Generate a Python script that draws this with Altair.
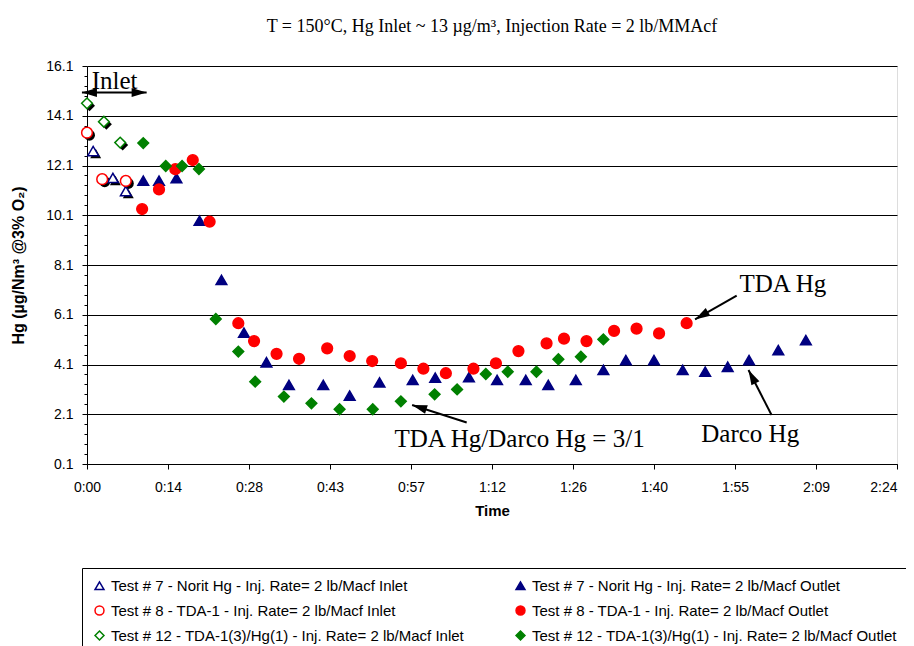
import altair as alt
import pandas as pd

# ---------------- data ----------------
series_names = [
    "Test # 7 - Norit Hg - Inj. Rate= 2 lb/Macf Inlet",
    "Test # 7 - Norit Hg - Inj. Rate= 2 lb/Macf Outlet",
    "Test # 8 - TDA-1 - Inj. Rate= 2 lb/Macf Inlet",
    "Test # 8 - TDA-1 - Inj. Rate= 2 lb/Macf Outlet",
    "Test # 12 - TDA-1(3)/Hg(1) - Inj. Rate= 2 lb/Macf Inlet",
    "Test # 12 - TDA-1(3)/Hg(1) - Inj. Rate= 2 lb/Macf Outlet",
]
series_shapes = ["triangle-up", "triangle-up", "circle", "circle", "diamond", "diamond"]
series_stroke = ["#000080", "#000080", "#FF0000", "#FF0000", "#008000", "#008000"]
series_fill = ["#FFFFFF", "#000080", "#FFFFFF", "#FF0000", "#FFFFFF", "#008000"]

# time in minutes, Hg in ug/Nm3 @3% O2
t7_inlet_time = [1.1, 4.6, 6.9]
t7_inlet_hg = [12.68, 11.60, 11.07]
t8_inlet_time = [0.0, 2.7, 6.9]
t8_inlet_hg = [13.42, 11.55, 11.48]
t12_inlet_time = [0.0, 3.0, 5.9]
t12_inlet_hg = [14.60, 13.86, 13.02]

t7_outlet_time = [10.0, 12.8, 15.9, 20.0, 23.9, 27.9, 31.9, 35.9, 42.0, 46.7, 52.0,
                  57.9, 61.9, 67.9, 72.9, 78.0, 82.0, 86.9, 91.8, 95.8, 100.8, 105.9,
                  109.9, 113.9, 117.7, 122.9, 127.8]
t7_outlet_hg = [11.49, 11.49, 11.59, 9.88, 7.50, 5.38, 4.19, 3.28, 3.28, 2.85, 3.38,
                3.48, 3.57, 3.59, 3.48, 3.48, 3.28, 3.48, 3.88, 4.28, 4.28, 3.88,
                3.81, 4.01, 4.28, 4.68, 5.08]
t8_outlet_time = [9.8, 12.8, 15.7, 18.8, 21.8, 26.9, 29.7, 33.7, 37.7, 42.7, 46.7,
                  50.7, 55.8, 59.8, 63.8, 68.7, 72.7, 76.7, 81.7, 84.8, 88.8, 93.7,
                  97.7, 101.7, 106.6]
t8_outlet_hg = [10.35, 11.14, 11.95, 12.32, 9.84, 5.76, 5.04, 4.53, 4.33, 4.75, 4.44,
                4.24, 4.15, 3.93, 3.75, 3.93, 4.15, 4.64, 4.95, 5.14, 5.04, 5.45,
                5.54, 5.35, 5.76]
t12_outlet_time = [10.0, 14.0, 16.9, 19.9, 22.9, 26.9, 29.9, 35.0, 39.9, 44.9, 50.8,
                   55.8, 61.8, 65.8, 70.9, 74.8, 79.9, 83.8, 87.8, 91.8]
t12_outlet_hg = [13.00, 12.08, 12.08, 11.96, 5.93, 4.62, 3.41, 2.81, 2.54, 2.30, 2.30,
                 2.62, 2.90, 3.10, 3.72, 3.81, 3.81, 4.31, 4.41, 5.11]

x_tick_labels = ["0:00", "0:14", "0:28", "0:43", "0:57", "1:12", "1:26", "1:40",
                 "1:55", "2:09", "2:24"]
y_major_ticks = [0.1, 2.1, 4.1, 6.1, 8.1, 10.1, 12.1, 14.1, 16.1]

note_text = ["Inlet", "TDA Hg", "Darco Hg", "TDA Hg/Darco Hg = 3/1"]
note_time = [4.9, 123.7, 117.9, 76.9]
note_hg = [15.18, 7.01, 1.00, 0.80]

arrow_tail_time = [-0.9, 115.5, 121.7, 67.5]
arrow_tail_hg = [15.03, 6.87, 2.07, 1.77]
arrow_tip_time = [10.6, 108.1, 117.6, 57.8]
arrow_tip_hg = [15.03, 5.91, 3.88, 2.47]

head_time = [-0.9, 10.6, 108.1, 117.6, 57.8]
head_hg = [15.03, 15.03, 5.91, 3.88, 2.47]
head_angle = [270, 90, 239.5, 332.5, 287.6]

title_text = "T = 150°C, Hg Inlet ~ 13 µg/m³, Injection Rate = 2 lb/MMAcf"

# ---------------- tables ----------------
all_series = [
    (t7_inlet_time, t7_inlet_hg), (t7_outlet_time, t7_outlet_hg),
    (t8_inlet_time, t8_inlet_hg), (t8_outlet_time, t8_outlet_hg),
    (t12_inlet_time, t12_inlet_hg), (t12_outlet_time, t12_outlet_hg),
]
rows = []
for name, (ts, vs) in zip(series_names, all_series):
    for t, v in zip(ts, vs):
        rows.append({"series": name, "time": t, "hg": v})
df = pd.DataFrame(rows)

notes_df = pd.DataFrame({"time": note_time, "hg": note_hg, "label": note_text})
arrows_df = pd.DataFrame({"time": arrow_tail_time, "hg": arrow_tail_hg,
                          "time2": arrow_tip_time, "hg2": arrow_tip_hg})
heads_df = pd.DataFrame({"time": head_time, "hg": head_hg, "angle": head_angle})

# ---------------- scales / axes ----------------
x_scale = alt.Scale(domain=[0, 144], nice=False, zero=False)
y_scale = alt.Scale(domain=[0.1, 16.1], nice=False, zero=False)

x_tick_values = [round(i * 14.4, 1) for i in range(len(x_tick_labels))]
label_list = "[" + ",".join("'%s'" % s for s in x_tick_labels) + "]"
x_axis = alt.Axis(
    values=x_tick_values,
    labelExpr=label_list + "[round(datum.value / 14.4)]",
    title="Time", grid=False, tickSize=5, labelPadding=11,
    labelAlign={"condition": {"test": "datum.value >= 143", "value": "right"},
                "value": "center"},
    labelFont="Liberation Sans", labelFontSize=14, labelColor="black",
    titleFont="Liberation Sans", titleFontSize=15, titleFontWeight="bold",
    titleColor="black", titlePadding=9,
    domainColor="black", tickColor="black", labelFlush=False,
)

y_all_ticks = [round(0.1 + 0.4 * i, 1) for i in range(41)]
is_major = "abs((datum.value - 0.1) / 2 - round((datum.value - 0.1) / 2)) < 0.01"
y_axis = alt.Axis(
    values=y_all_ticks,
    labelExpr="(" + is_major + ") ? format(datum.value, '.1f') : ''",
    title="Hg (µg/Nm³ @3% O₂)",
    grid=True, gridColor="black", gridWidth=1,
    gridOpacity={"condition": {"test": is_major, "value": 1}, "value": 0},
    tickSize={"condition": {"test": is_major, "value": 5}, "value": 3},
    labelPadding=9, labelFont="Liberation Sans", labelFontSize=14, labelColor="black",
    titleFont="Liberation Sans", titleFontSize=16, titleFontWeight="bold",
    titleColor="black", titlePadding=19,
    domainColor="black", tickColor="black", labelFlush=False,
)

X = alt.X("time:Q", scale=x_scale, axis=x_axis)
Y = alt.Y("hg:Q", scale=y_scale, axis=y_axis)

legend = alt.Legend(
    title=None, orient="none", legendX=-5, legendY=502, columns=2,
    direction="horizontal",
    strokeColor="black", fillColor="white", padding=10, cornerRadius=0,
    labelFont="Liberation Sans", labelFontSize=15, labelColor="black", labelLimit=600,
    labelOffset=4, symbolSize=80, symbolStrokeWidth=1.5, rowPadding=9,
    columnPadding=48,
)

# ---------------- layers ----------------
shadows = []
for name, shp in zip(series_names, series_shapes):
    if name.endswith("Inlet"):
        shadows.append(
            alt.Chart(df[df["series"] == name]).mark_point(
                shape=shp, filled=True, color="black", opacity=1, size=120,
                xOffset=2.5, yOffset=2.5,
            ).encode(x=X, y=Y)
        )

points = alt.Chart(df).mark_point(filled=True, opacity=1, size=115, strokeWidth=1.5).encode(
    x=X, y=Y,
    shape=alt.Shape("series:N", scale=alt.Scale(domain=series_names, range=series_shapes),
                    legend=legend),
    fill=alt.Fill("series:N", scale=alt.Scale(domain=series_names, range=series_fill),
                  legend=legend),
    stroke=alt.Stroke("series:N", scale=alt.Scale(domain=series_names, range=series_stroke),
                      legend=legend),
)

arrow_lines = alt.Chart(arrows_df).mark_rule(color="black", strokeWidth=2).encode(
    x=X, y=Y, x2="time2:Q", y2="hg2:Q",
)

arrow_heads = alt.Chart(heads_df).mark_point(
    shape="M0,0L0.9,3L-0.9,3Z", filled=True, color="black", opacity=1, size=100,
).encode(x=X, y=Y, angle=alt.Angle("angle:Q", scale=None))

notes = alt.Chart(notes_df).mark_text(
    font="Liberation Serif", fontSize=25, color="black", align="center",
    baseline="alphabetic",
).encode(x=X, y=Y, text="label:N")

chart = alt.layer(*shadows, points, arrow_lines, arrow_heads, notes).properties(
    width=810, height=398,
    autosize=alt.AutoSizeParams(type="none"),
    padding={"left": 79, "top": 58, "right": 9, "bottom": 182},
    title=alt.TitleParams(
        text=title_text, font="Liberation Serif", fontSize=18, fontWeight="normal",
        color="black", anchor="middle", baseline="alphabetic", offset=9,
    ),
).configure_view(stroke=None).configure(background="white")

chart.save("out.html", embed_options={"renderer": "svg", "actions": False})
